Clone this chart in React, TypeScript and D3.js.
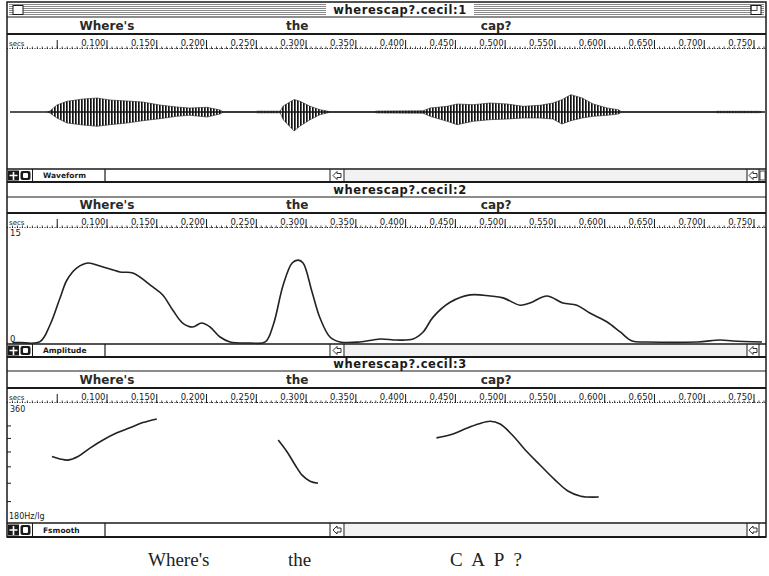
import React from "react";
import * as d3 from "d3";

const WIDTH = 769;
const HEIGHT = 576;

// ---------- data ----------
const fileTitles = ["wherescap?.cecil:1", "wherescap?.cecil:2", "wherescap?.cecil:3"];
const panelNames = ["Waveform", "Amplitude", "Fsmooth"];
const wordLabels = ["Where's", "the", "cap?"];
const wordCentres = [0.1, 0.291, 0.491];
const rulerTicks = [0.05, 0.1, 0.15, 0.2, 0.25, 0.3, 0.35, 0.4, 0.45, 0.5, 0.55, 0.6, 0.65, 0.7, 0.75];
const rulerLabels = ["", "0.100", "0.150", "0.200", "0.250", "0.300", "0.350", "0.400", "0.450", "0.500", "0.550", "0.600", "0.650", "0.700", "0.750"];
const bottomWords = ["Where's", "the", "C A P ?"];

// waveform envelope (arbitrary sample units, + up / - down)
const waveTime = [0.040, 0.0427, 0.0497, 0.0598, 0.0759, 0.090, 0.103, 0.120, 0.136, 0.153, 0.170, 0.183, 0.2005, 0.2136, 0.217,
  0.248, 0.251, 0.272, 0.274, 0.277, 0.288, 0.294, 0.304, 0.314, 0.321, 0.3245,
  0.368, 0.371, 0.4176, 0.4246, 0.4417, 0.4518, 0.4678, 0.485, 0.502, 0.518, 0.535, 0.548, 0.557, 0.566, 0.5774, 0.5884, 0.6025, 0.6136, 0.6176,
  0.710, 0.713, 0.755, 0.758];
const waveUpper = [0, 1, 7, 10.7, 13, 14, 12, 11, 10, 7, 5, 4, 4.7, 2, 0,
  0, 0.8, 0.8, 0.8, 6, 12.5, 10.7, 5.7, 2.3, 1, 0,
  0, 0.9, 1.2, 4, 5.7, 8, 7.3, 9, 8, 5.7, 6.7, 9, 12.3, 17.3, 14, 8, 4, 2.3, 0,
  0, 0.7, 0.7, 0];
const waveLower = [0, 1, 6, 11, 13, 14.3, 12.7, 11, 8.7, 6.7, 4.3, 3.3, 5, 2, 0,
  0, 0.8, 0.8, 0.8, 7.7, 19, 14, 7.7, 2.7, 1, 0,
  0, 0.9, 1.2, 4.3, 9.3, 12.7, 9.3, 7.7, 7, 6, 6, 7, 12, 8.7, 6, 4.3, 3.3, 2, 0,
  0, 0.7, 0.7, 0];

// amplitude contour
const ampTime = [0.005, 0.0126, 0.0327, 0.0427, 0.0528, 0.0598, 0.0698, 0.0809, 0.093, 0.113, 0.126, 0.146, 0.156, 0.166, 0.176, 0.186, 0.195, 0.2035, 0.2136, 0.2236,
  0.244, 0.259, 0.267, 0.277, 0.286, 0.292, 0.297, 0.306, 0.314, 0.324, 0.334, 0.354, 0.3744, 0.391, 0.4075, 0.4176, 0.4276, 0.4447, 0.4648, 0.485,
  0.498, 0.515, 0.525, 0.542, 0.558, 0.572, 0.585, 0.6025, 0.6156, 0.6276, 0.6427, 0.693, 0.716, 0.729, 0.758];
const ampValue = [0.05, 0.05, 0.18, 2.43, 6.08, 8.51, 10.14, 10.81, 10.4, 9.6, 9.46, 7.57, 6.49, 4.46, 2.7, 2.16, 2.7, 2.16, 0.81, 0.14,
  0.0, 0.14, 2.43, 7.84, 10.81, 11.2, 10.81, 6.9, 3.38, 0.81, 0.14, 0.14, 0.54, 0.4, 0.54, 1.49, 3.5, 5.5, 6.5, 6.35,
  6.1, 5.1, 5.4, 6.35, 5.4, 5.1, 4.05, 2.84, 1.49, 0.27, 0.14, 0.14, 0.4, 0.27, 0.14];

// smoothed F0 (Hz), three voiced stretches
const f0Time1 = [0.0447, 0.0528, 0.0608, 0.0709, 0.0829, 0.096, 0.110, 0.123, 0.136, 0.150];
const f0Hz1 = [267, 263, 261, 267, 282, 297, 311, 321, 332, 340];
const f0Time2 = [0.272, 0.281, 0.289, 0.296, 0.304, 0.312];
const f0Hz2 = [297, 275, 253, 237, 228, 225];
const f0Time3 = [0.431, 0.445, 0.460, 0.473, 0.485, 0.495, 0.507, 0.520, 0.535, 0.550, 0.563, 0.576, 0.594];
const f0Hz3 = [301, 307, 319, 329, 335, 329, 307, 279, 253, 230, 214, 207, 206];
const f0AxisTicks = [325, 300, 275, 250, 225, 200];

// ---------- layout ----------
const L = 7;
const R = 766;
const x = d3.scaleLinear().domain([0.1, 0.75]).range([107, 754]);

const panels = [
  { top: 2, words: 17, ruler: 33, plot: 49, bar: 169, bottom: 182, active: true },
  { top: 182, words: 197, ruler: 212, plot: 228, bar: 344, bottom: 357, active: false },
  { top: 357, words: 371, ruler: 387, plot: 403, bar: 523, bottom: 537, active: false },
];

const UI = "'DejaVu Sans', 'Liberation Sans', sans-serif";
const INK = "#1a1a1a";

function LeftArrow({ cx, cy }: { cx: number; cy: number }) {
  return (
    <path
      d={`M${cx - 4},${cy} L${cx},${cy - 4} L${cx},${cy - 2} L${cx + 4},${cy - 2} L${cx + 4},${cy + 2} L${cx},${cy + 2} L${cx},${cy + 4} Z`}
      fill="white"
      stroke={INK}
      strokeWidth={0.9}
    />
  );
}

function Chrome({ p, i }: { p: any; i: number }) {
  const minor = d3.range(0.005, 0.7601, 0.005);
  const titleMid = (p.top + p.words) / 2;
  const wordsMid = (p.words + p.ruler) / 2;
  const barMid = (p.bar + p.bottom) / 2;
  return (
    <g>
      {/* title bar */}
      {p.active ? (
        <g>
          <rect x={L + 2} y={p.top + 2} width={R - L - 4} height={p.words - p.top - 4} fill="url(#hatch)" />
          <rect x={326} y={p.top + 1} width={148} height={p.words - p.top - 2} fill="white" />
          <rect x={13} y={p.top + 3.5} width={10} height={9} fill="white" stroke={INK} strokeWidth={1} />
          <rect x={751} y={p.top + 3.5} width={10} height={9} fill="white" stroke={INK} strokeWidth={1} />
          <rect x={751} y={p.top + 3.5} width={6} height={5} fill="none" stroke={INK} strokeWidth={0.8} />
        </g>
      ) : null}
      <text x={400} y={titleMid + 4} textAnchor="middle" fontFamily={UI} fontWeight="bold" fontSize={11.5} letterSpacing={0.6} fill={INK}>
        {fileTitles[i]}
      </text>
      <line x1={L} x2={R} y1={p.words} y2={p.words} stroke={INK} strokeWidth={1.2} />
      {/* word row */}
      {wordLabels.map((w, k) => (
        <text key={k} x={x(wordCentres[k])} y={wordsMid + 4.5} textAnchor="middle" fontFamily={UI} fontWeight="bold" fontSize={12} fill="#2a2a2a">
          {w}
        </text>
      ))}
      {/* ruler */}
      <line x1={L} x2={R} y1={p.ruler + 1} y2={p.ruler + 1} stroke={INK} strokeWidth={2} />
      <line x1={L} x2={R} y1={p.plot - 0.5} y2={p.plot - 0.5} stroke={INK} strokeWidth={1} strokeDasharray="1 1.5" />
      {minor.map((t, k) => (
        <line key={k} x1={x(t)} x2={x(t)} y1={p.plot - 2.5} y2={p.plot} stroke={INK} strokeWidth={0.8} />
      ))}
      {rulerTicks.map((t, k) => (
        <g key={k}>
          <line x1={x(t)} x2={x(t)} y1={p.plot - 9} y2={p.plot} stroke={INK} strokeWidth={1} />
          <text x={x(t) - 1.5} y={p.plot - 3} textAnchor="end" fontFamily={UI} fontSize={8.5} fill={INK}>
            {rulerLabels[k]}
          </text>
        </g>
      ))}
      <text x={9} y={p.plot - 3} fontFamily={UI} fontSize={7} fill={INK}>secs</text>
      {/* bottom bar */}
      <line x1={L} x2={R} y1={p.bar} y2={p.bar} stroke={INK} strokeWidth={1.5} />
      <rect x={8} y={p.bar + 1.5} width={11} height={p.bottom - p.bar - 3} fill={INK} />
      <path d={`M${13.5},${p.bar + 3} V${p.bottom - 2} M${9.5},${barMid} H${17.5}`} stroke="white" strokeWidth={1.6} />
      <rect x={20.5} y={p.bar + 2} width={10} height={p.bottom - p.bar - 4} rx={2} fill={INK} />
      <rect x={23} y={p.bar + 4} width={5} height={p.bottom - p.bar - 8} rx={1} fill="white" />
      <line x1={32.5} x2={32.5} y1={p.bar} y2={p.bottom} stroke={INK} strokeWidth={1} />
      <text x={43} y={barMid + 2.8} fontFamily={UI} fontWeight="bold" fontSize={7.5} fill={INK}>
        {panelNames[i]}
      </text>
      <line x1={105} x2={105} y1={p.bar} y2={p.bottom} stroke={INK} strokeWidth={1.2} />
      <line x1={330} x2={330} y1={p.bar} y2={p.bottom} stroke={INK} strokeWidth={1} />
      <line x1={344} x2={344} y1={p.bar} y2={p.bottom} stroke={INK} strokeWidth={1} />
      <LeftArrow cx={337} cy={barMid} />
      <rect x={345} y={p.bar + 1} width={402} height={p.bottom - p.bar - 2} fill="#f2f2f2" />
      <line x1={747} x2={747} y1={p.bar} y2={p.bottom} stroke={INK} strokeWidth={1} />
      <line x1={759} x2={759} y1={p.bar} y2={p.bottom} stroke={INK} strokeWidth={1} />
      <LeftArrow cx={753} cy={barMid} />
      {p.active ? (
        <g>
          <rect x={760} y={p.bar + 2} width={5} height={p.bottom - p.bar - 4} fill="white" stroke={INK} strokeWidth={0.8} />
        </g>
      ) : null}
      <line x1={L} x2={R} y1={p.bottom} y2={p.bottom} stroke={INK} strokeWidth={1.8} />
    </g>
  );
}

export default function App() {
  const p2 = panels[1];
  const p3 = panels[2];
  const p1 = panels[0];

  // waveform
  const yWave = d3.scaleLinear().domain([-60, 60]).range([172, 52]);
  const waveData = waveTime.map((t, k) => ({ t, up: waveUpper[k], lo: -waveLower[k] }));
  const waveArea = d3
    .area<any>()
    .x((d) => x(d.t))
    .y0((d) => yWave(d.lo))
    .y1((d) => yWave(d.up))
    .curve(d3.curveLinear);

  // amplitude
  const yAmp = d3.scaleLinear().domain([0, 15]).range([343, 232]);
  const ampLine = d3
    .line<number>()
    .x((_, k) => x(ampTime[k]))
    .y((v) => yAmp(v))
    .curve(d3.curveCatmullRom.alpha(0.5));

  // F0
  const yF0 = d3.scaleLog().domain([180, 360]).range([518, 410]);
  const f0Line = (times: number[]) =>
    d3
      .line<number>()
      .x((_, k) => x(times[k]))
      .y((v) => yF0(v))
      .curve(d3.curveCatmullRom.alpha(0.5));

  return (
    <svg width={WIDTH} height={HEIGHT} style={{ display: "block", position: "absolute", left: 0, top: 0 }}>
      <defs>
        <pattern id="hatch" width={4} height={2} patternUnits="userSpaceOnUse">
          <rect width={4} height={1} fill="#8a8a8a" />
        </pattern>
        <pattern id="strokes" width={3} height={4} patternUnits="userSpaceOnUse">
          <rect width={1.7} height={4} fill="#111" />
        </pattern>
        <clipPath id="clip1">
          <rect x={L + 1} y={p1.plot} width={R - L - 2} height={p1.bar - p1.plot} />
        </clipPath>
      </defs>
      <rect x={0} y={0} width={WIDTH} height={HEIGHT} fill="white" />

      {panels.map((p, i) => (
        <Chrome key={i} p={p} i={i} />
      ))}

      {/* panel 1: waveform */}
      <g clipPath="url(#clip1)">
        <line x1={L + 3} x2={R - 1} y1={yWave(0)} y2={yWave(0)} stroke={INK} strokeWidth={1.3} />
        <path d={waveArea(waveData) || ""} fill="url(#strokes)" stroke="#222" strokeWidth={0.6} />
      </g>

      {/* panel 2: amplitude */}
      <text x={10} y={p2.plot + 8} fontFamily={UI} fontSize={8.5} fill={INK}>15</text>
      <text x={10} y={p2.bar - 2.5} fontFamily={UI} fontSize={8.5} fill={INK}>0</text>
      <path d={ampLine(ampValue) || ""} fill="none" stroke="#222" strokeWidth={1.6} />

      {/* panel 3: F0 */}
      <text x={10} y={p3.plot + 8.5} fontFamily={UI} fontSize={8} fill={INK}>360</text>
      <text x={9} y={p3.bar - 4} fontFamily={UI} fontSize={8} fill={INK}>180Hz/lg</text>
      {f0AxisTicks.map((f, k) => (
        <line key={k} x1={L} x2={L + 4} y1={yF0(f)} y2={yF0(f)} stroke={INK} strokeWidth={1} />
      ))}
      <path d={f0Line(f0Time1)(f0Hz1) || ""} fill="none" stroke="#222" strokeWidth={1.6} />
      <path d={f0Line(f0Time2)(f0Hz2) || ""} fill="none" stroke="#222" strokeWidth={1.6} />
      <path d={f0Line(f0Time3)(f0Hz3) || ""} fill="none" stroke="#222" strokeWidth={1.6} />

      {/* outer window frame */}
      <rect x={L} y={2} width={R - L} height={p3.bottom - 2} fill="none" stroke={INK} strokeWidth={1.5} />

      {/* caption */}
      {bottomWords.map((w, k) => (
        <text
          key={k}
          x={[148, 288, 450][k]}
          y={566}
          fontFamily="'Liberation Serif', 'DejaVu Serif', serif"
          fontSize={19}
          letterSpacing={k === 2 ? 2.5 : 0}
          fill="#222"
        >
          {w}
        </text>
      ))}
    </svg>
  );
}
